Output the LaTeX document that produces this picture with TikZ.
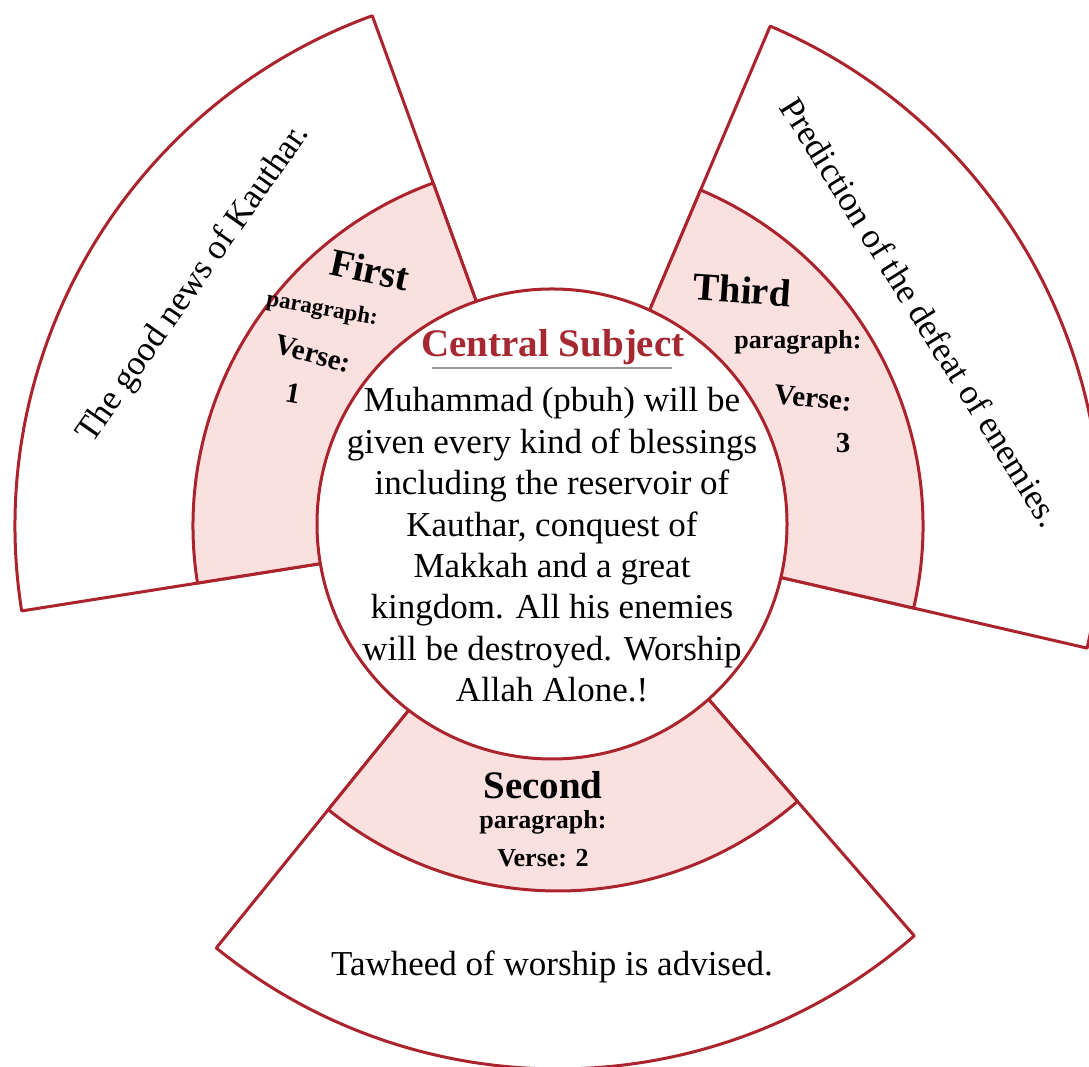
\documentclass[tikz,border=0pt]{standalone}
\usepackage{fontspec}
\setmainfont{Liberation Serif}
\definecolor{edgered}{RGB}{170,35,45}
\definecolor{pinkfill}{RGB}{251,224,224}
\definecolor{subjred}{RGB}{165,40,50}
\newcommand\ringpart[5]{%
  \draw[#1, shift={(558pt,541pt)}] (#2:#4) -- (#2:#5)
    arc[start angle=#2, end angle=#3, radius=#5] -- (#3:#4)
    arc[start angle=#3, end angle=#2, radius=#4] -- cycle;}
\begin{document}
\begin{tikzpicture}[x=1pt,y=1pt,
  sect/.style={draw=edgered, line width=3pt, line join=round},
  outerband/.style={sect, fill=white},
  innerband/.style={sect, fill=pinkfill},
  bodytext/.style={font=\fontsize{35}{41.4}\selectfont, inner sep=0pt, align=center},
  bigbold/.style={font=\bfseries\fontsize{39}{41}\selectfont, inner sep=0pt},
  midbold/.style={font=\bfseries\fontsize{29}{31}\selectfont, inner sep=0pt},
  smallbold/.style={font=\bfseries\fontsize{26}{28}\selectfont, inner sep=0pt},
  leftsmall/.style={font=\bfseries\fontsize{23}{25}\selectfont, inner sep=0pt},
]
\useasboundingbox (0,0) rectangle (1089,1067);
\fill[white] (0,0) rectangle (1089,1067);
% outer white bands
\ringpart{outerband}{110}{189}{150pt}{543pt}
\ringpart{outerband}{-13}{67}{150pt}{543pt}
\ringpart{outerband}{231}{311}{150pt}{543pt}
% inner pink bands
\ringpart{innerband}{110}{189}{150pt}{365pt}
\ringpart{innerband}{-13}{67}{150pt}{365pt}
\ringpart{innerband}{231}{311}{150pt}{365pt}
% central circle
\node[circle, draw=edgered, line width=3pt, fill=white, minimum size=470pt, inner sep=0pt] (core) at (552,543) {};
% central texts
\node[font=\bfseries\fontsize{39}{41}\selectfont, text=subjred, inner sep=0pt] (title) at (553,720) {Central Subject};
\coordinate (ulA) at (432,699);
\coordinate (ulB) at (672,699);
\draw[gray!80, line width=1.3pt] (ulA) -- (ulB);
\node[bodytext] (body) at (552,522) {Muhammad (pbuh) will be\\given every kind of blessings\\including the reservoir of\\Kauthar, conquest of\\Makkah and a great\\kingdom. All his enemies\\will be destroyed. Worship\\Allah Alone.!};
% first paragraph
\node[bigbold, rotate=-12] (first) at (370,797) {First};
\node[leftsmall, rotate=-10] (p1) at (322,757) {paragraph:};
\node[midbold, rotate=-15] (v1) at (313,713) {Verse:};
\node[midbold, rotate=-10] (n1) at (293,674) {1};
\node[bodytext, rotate=55] (t1) at (194,783) {The good news of Kauthar.};
% third paragraph
\node[bigbold, rotate=-4] (third) at (742,777) {Third};
\node[smallbold] (p3) at (798,725) {paragraph:};
\node[midbold, rotate=-6] (v3) at (813,669) {Verse:};
\node[midbold] (n3) at (843,624) {3};
\node[bodytext, rotate=-58] (t3) at (921,755) {Prediction of the defeat of enemies.};
% second paragraph
\node[bigbold] (second) at (543,282) {Second};
\node[smallbold] (p2) at (543,245) {paragraph:};
\node[smallbold] (v2) at (543,209) {Verse: 2};
\node[bodytext] (t2) at (552,100) {Tawheed of worship is advised.};
\end{tikzpicture}
\end{document}
